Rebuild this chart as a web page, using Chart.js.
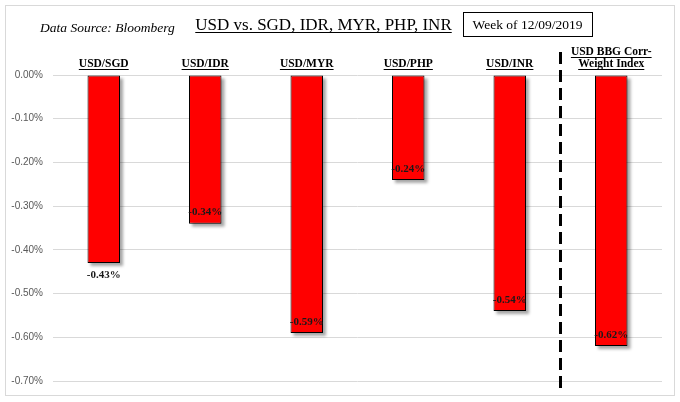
<!DOCTYPE html>
<html>
<head>
<meta charset="utf-8">
<script src="https://cdn.jsdelivr.net/npm/chart.js@4.4.1/dist/chart.umd.min.js"></script>
<style>
  html, body { margin: 0; padding: 0; background: #fff; }
  #wrap { position: relative; width: 680px; height: 402px; }
  #frame { position: absolute; left: 5px; top: 5px; width: 668px; height: 389px; border: 1px solid #d9d9d9; pointer-events: none; }
</style>
</head>
<body>
<div id="wrap">
  <canvas id="chart" width="680" height="402"></canvas>
  <div id="frame"></div>
</div>
<script>
const categories = ['USD/SGD', 'USD/IDR', 'USD/MYR', 'USD/PHP', 'USD/INR', ['USD BBG Corr-', 'Weight Index']];
const changes = [-0.43, -0.34, -0.59, -0.24, -0.54, -0.62];
const yTicks = [0, -0.1, -0.2, -0.3, -0.4, -0.5, -0.6, -0.7];

const serif = '"Liberation Serif", "Times New Roman", serif';

function underlined(ctx, text, x, y, align) {
  ctx.textAlign = align;
  ctx.fillText(text, x, y);
  const w = ctx.measureText(text).width;
  const x0 = align === 'center' ? x - w / 2 : (align === 'left' ? x : x - w);
  ctx.fillRect(x0, y + 2, w, 1);
}

const decorations = {
  id: 'decorations',
  beforeDatasetsDraw(chart) {
    // soft drop shadow behind each bar
    const ctx = chart.ctx;
    const meta = chart.getDatasetMeta(0);
    ctx.save();
    ctx.filter = 'blur(1.5px)';
    ctx.fillStyle = 'rgba(0,0,0,0.35)';
    meta.data.forEach((bar) => {
      const p = bar.getProps(['x', 'y', 'base', 'width']);
      const top = Math.min(p.y, p.base);
      const h = Math.abs(p.y - p.base);
      ctx.fillRect(p.x - p.width / 2 + 3, top + 3, p.width, h);
    });
    ctx.restore();
  },
  afterDatasetsDraw(chart) {
    const ctx = chart.ctx;
    const x = chart.scales.x;
    const meta = chart.getDatasetMeta(0);

    // data labels
    ctx.save();
    ctx.font = 'bold 11px ' + serif;
    ctx.fillStyle = '#1a1a1a';
    ctx.textAlign = 'center';
    ctx.textBaseline = 'middle';
    meta.data.forEach((bar, i) => {
      const txt = changes[i].toFixed(2) + '%';
      const y = i === 0 ? bar.y + 12 : bar.y - 11;
      ctx.fillText(txt, bar.x, y);
    });
    ctx.restore();

    // category labels above the bars
    ctx.save();
    ctx.font = 'bold 11.5px ' + serif;
    ctx.fillStyle = '#000';
    ctx.textBaseline = 'alphabetic';
    categories.forEach((c, i) => {
      const cx = x.getPixelForValue(i);
      const lines = Array.isArray(c) ? c : [c];
      lines.forEach((ln, j) => {
        const base = 67 - (lines.length - 1 - j) * 12;
        underlined(ctx, ln, cx, base, 'center');
      });
    });
    ctx.restore();

    // dashed separator before the index
    const sx = (x.getPixelForValue(4) + x.getPixelForValue(5)) / 2;
    ctx.save();
    ctx.strokeStyle = '#000';
    ctx.lineWidth = 3;
    ctx.setLineDash([12, 6]);
    ctx.beginPath();
    ctx.moveTo(sx, 52);
    ctx.lineTo(sx, 393);
    ctx.stroke();
    ctx.restore();

    // header texts
    ctx.save();
    ctx.fillStyle = '#000';
    ctx.textBaseline = 'alphabetic';
    ctx.font = 'italic 13.5px ' + serif;
    ctx.textAlign = 'left';
    ctx.fillText('Data Source: Bloomberg', 40, 32);
    ctx.font = '17px ' + serif;
    underlined(ctx, 'USD vs. SGD, IDR, MYR, PHP, INR', 323.5, 30, 'center');
    ctx.strokeStyle = '#000';
    ctx.lineWidth = 1;
    ctx.strokeRect(463.5, 12.5, 129, 24);
    ctx.font = '13.5px ' + serif;
    ctx.textAlign = 'center';
    ctx.fillText('Week of 12/09/2019', 527.5, 29);
    ctx.restore();
  }
};

new Chart(document.getElementById('chart'), {
  type: 'bar',
  data: {
    labels: categories,
    datasets: [{
      label: 'Weekly change',
      data: changes,
      backgroundColor: '#ff0000',
      borderColor: '#000000',
      borderWidth: 1,
      borderSkipped: false,
      barPercentage: 0.32,
      categoryPercentage: 1
    }]
  },
  options: {
    responsive: false,
    animation: false,
    layout: { padding: { left: 0, right: 18, top: 75, bottom: 21 } },
    plugins: {
      legend: { display: false },
      tooltip: { enabled: false }
    },
    scales: {
      x: { display: false },
      y: {
        min: -0.7,
        max: 0,
        afterFit(scale) { scale.width = 53; },
        afterBuildTicks(scale) { scale.ticks = yTicks.map(v => ({ value: v })); },
        grid: { color: '#d9d9d9', drawTicks: false },
        border: { display: false },
        ticks: {
          padding: 10,
          color: '#595959',
          font: { family: '"Liberation Sans Narrow", "Liberation Sans", Arial, sans-serif', size: 10 },
          callback: (v) => v.toFixed(2) + '%'
        }
      }
    }
  },
  plugins: [decorations]
});
</script>
</body>
</html>
